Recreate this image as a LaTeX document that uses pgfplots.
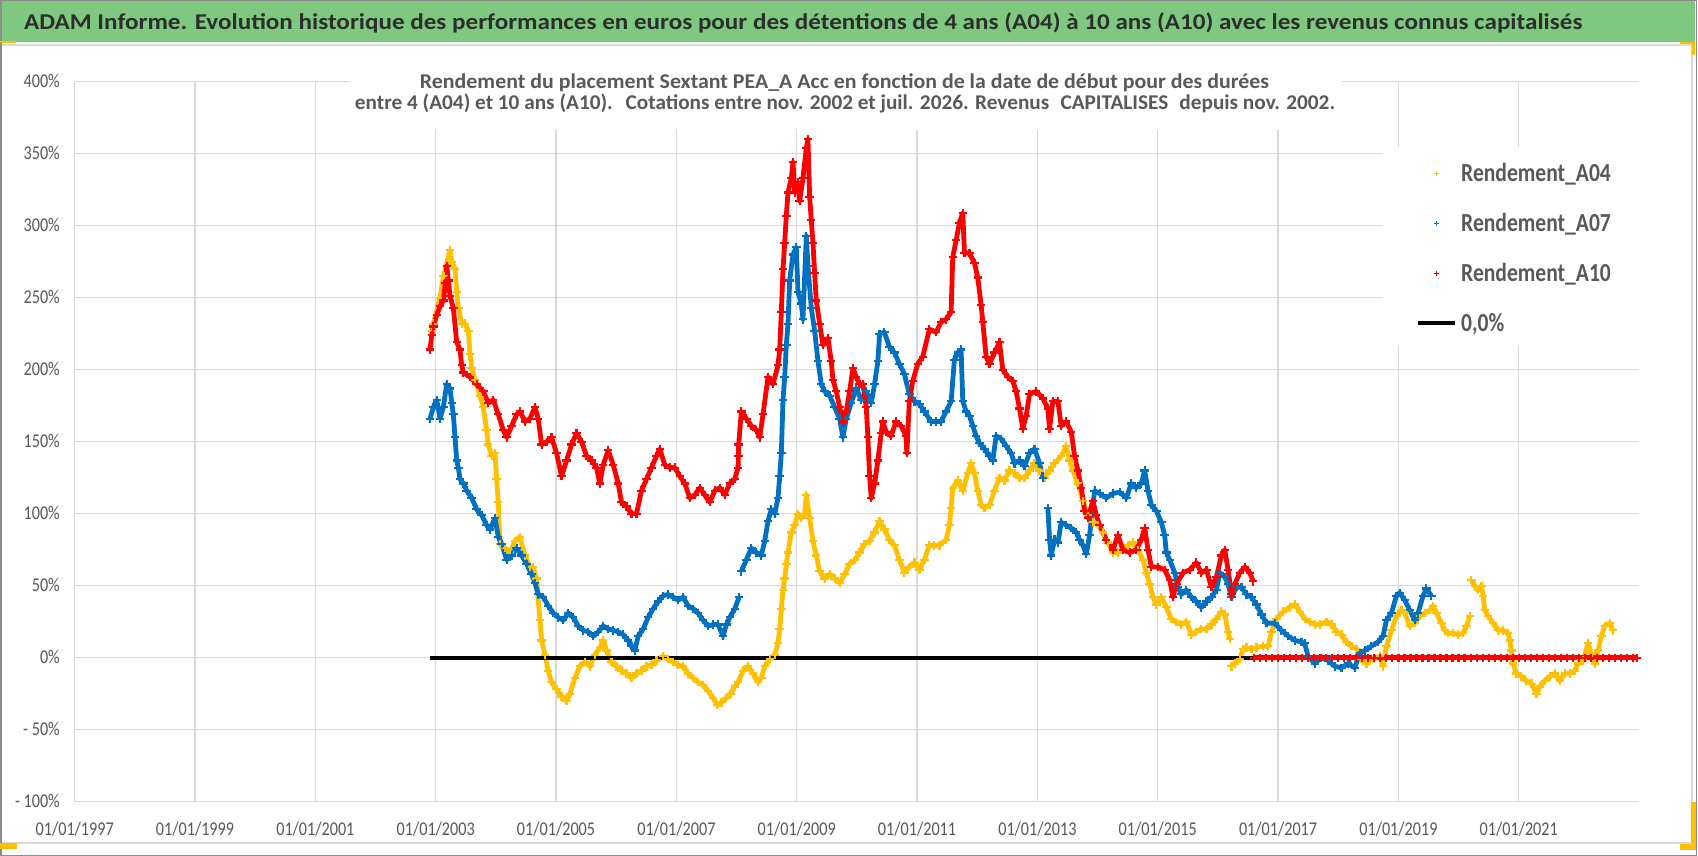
\documentclass[border=0pt]{standalone}
\usepackage{fontspec}
\setmainfont{Carlito}
\usepackage{graphicx}
\usepackage{pgfplots}
\usepackage{pgfplotstable}
\pgfplotsset{compat=1.18}
\definecolor{gridgray}{RGB}{217,217,217}
\definecolor{lblgray}{RGB}{89,89,89}
\definecolor{titlegray}{RGB}{45,45,45}
\definecolor{bargreen}{RGB}{126,200,128}
\definecolor{frame}{RGB}{140,140,140}
\definecolor{cAA}{RGB}{255,192,0}
\definecolor{cAB}{RGB}{0,112,192}
\definecolor{cAC}{RGB}{255,0,0}
\newcommand{\sq}[1]{\scalebox{0.83}[1]{#1}}
\newcommand{\tl}{\fontsize{19.5}{20}\selectfont}
\newcommand{\lgf}{\fontsize{26}{28}\selectfont\bfseries}
\pgfplotsset{
  mylegmark/.style={legend image code/.code={\path[draw=none,fill=none] (0pt,-10.5pt) rectangle (37pt,10.5pt);
    \draw[##1, mark size=2.4pt, mark options={line width=1.1pt}] plot coordinates {(18.5pt,0pt)};}},
  mylegline/.style={legend image code/.code={\path[draw=none,fill=none] (0pt,-10.5pt) rectangle (37pt,10.5pt);
    \draw[##1] (0pt,0pt) -- (37pt,0pt);}},
  serie/.style={mark=+, mark size=4.2pt, line width=4.8pt, mark options={line width=2.2pt}, color=#1, line join=round},
}

\pgfplotstableread{
x y
2002.934 227
2002.961 232
2003.070 250
2003.130 265
2003.238 283
2003.266 275
2003.321 270
2003.349 254
2003.376 243
2003.432 232
2003.487 232
2003.542 227
2003.570 211
2003.598 201
2003.653 193
2003.736 182
2003.791 174
2003.847 158
2003.874 148
2003.930 140
2003.985 142
2004.013 124
2004.040 108
2004.068 79
2004.151 76
2004.234 73
2004.317 81
2004.400 84
2004.483 71
2004.566 63
2004.621 63
2004.677 55
2004.732 26
2004.760 12
2004.815 2
2004.871 -9
2004.926 -17
2005.009 -22
2005.092 -27
2005.175 -30
2005.230 -25
2005.313 -14
2005.396 -6
2005.479 -3
2005.562 -6
2005.645 2
2005.728 7
2005.784 12
2005.839 5
2005.922 -3
2006.005 -6
2006.088 -9
2006.171 -11
2006.254 -14
2006.337 -11
2006.420 -9
2006.503 -6
2006.586 -5
2006.669 -2
2006.780 1
2006.863 -1
2006.946 -3
2007.029 -5
2007.112 -6
2007.195 -11
2007.278 -14
2007.361 -17
2007.444 -19
2007.527 -23
2007.610 -28
2007.680 -33
2007.750 -31
2007.831 -28
2007.900 -25
2007.970 -20
2008.025 -17
2008.108 -9
2008.191 -6
2008.274 -11
2008.357 -17
2008.412 -14
2008.468 -6
2008.551 -1
2008.634 2
2008.689 10
2008.717 20
2008.744 34
2008.772 47
2008.800 55
2008.827 65
2008.855 73
2008.910 87
2008.966 92
2009.021 100
2009.076 97
2009.132 100
2009.159 113
2009.215 97
2009.270 81
2009.325 71
2009.381 60
2009.464 55
2009.547 58
2009.630 55
2009.713 52
2009.796 58
2009.879 65
2009.962 68
2010.045 73
2010.128 79
2010.211 81
2010.294 87
2010.377 95
2010.460 89
2010.540 82
2010.623 78
2010.706 68
2010.789 59
2010.872 63
2010.956 66
2011.039 61
2011.122 68
2011.205 78
2011.288 78
2011.372 78
2011.483 82
2011.538 92
2011.566 104
2011.593 118
2011.677 123
2011.760 116
2011.843 128
2011.898 135
2011.954 128
2012.009 116
2012.065 106
2012.120 104
2012.204 106
2012.287 116
2012.370 125
2012.453 123
2012.536 130
2012.620 128
2012.703 125
2012.786 125
2012.869 130
2012.952 135
2013.036 130
2013.119 125
2013.202 130
2013.285 135
2013.396 140
2013.479 147
2013.535 137
2013.590 130
2013.673 121
2013.757 109
2013.840 99
2013.923 94
2014.006 92
2014.089 87
2014.172 80
2014.256 73
2014.339 73
2014.422 75
2014.505 78
2014.588 80
2014.672 75
2014.755 68
2014.810 59
2014.866 51
2014.921 42
2014.977 37
2015.060 42
2015.143 35
2015.227 27
2015.310 25
2015.393 23
2015.476 25
2015.559 16
2015.642 18
2015.725 20
2015.809 20
2015.892 23
2015.975 27
2016.058 32
2016.114 30
2016.169 18
2016.197 13
2016.210 nan
2016.225 -6
2016.280 -4
2016.363 -1
2016.419 6
2016.474 7
2016.557 6
2016.641 7
2016.751 8
2016.835 8
2016.890 18
2016.973 27
2017.084 32
2017.195 35
2017.278 37
2017.362 32
2017.445 27
2017.528 25
2017.611 23
2017.694 23
2017.805 25
2017.889 23
2017.972 18
2018.055 16
2018.138 11
2018.222 8
2018.305 6
2018.388 -1
2018.471 -4
2018.582 -1
2018.693 1
2018.745 -6
2018.801 8
2018.884 19
2018.967 29
2019.050 33
2019.105 31
2019.188 22
2019.271 24
2019.355 29
2019.438 31
2019.521 33
2019.576 36
2019.632 31
2019.715 24
2019.770 19
2019.825 17
2019.909 17
2019.992 16
2020.075 17
2020.130 22
2020.186 29
2020.200 nan
2020.213 54
2020.269 50
2020.324 47
2020.380 50
2020.407 43
2020.435 33
2020.490 29
2020.573 24
2020.657 19
2020.740 19
2020.823 17
2020.850 12
2020.878 5
2020.906 -4
2020.961 -11
2021.044 -13
2021.127 -16
2021.211 -18
2021.294 -25
2021.349 -20
2021.432 -16
2021.515 -13
2021.598 -11
2021.681 -16
2021.765 -11
2021.848 -11
2021.931 -9
2021.986 -4
2022.069 -2
2022.152 10
2022.208 3
2022.263 -4
2022.319 5
2022.374 15
2022.429 22
2022.512 24
2022.568 19
}\tabAA

\pgfplotstableread{
x y
2002.906 166
2002.961 174
2003.017 179
2003.072 166
2003.127 174
2003.183 190
2003.238 187
2003.266 177
2003.293 169
2003.321 153
2003.349 137
2003.376 132
2003.404 124
2003.459 121
2003.515 116
2003.598 111
2003.681 103
2003.764 99
2003.847 92
2003.902 89
2003.985 97
2004.040 84
2004.096 79
2004.179 68
2004.262 71
2004.345 76
2004.428 71
2004.511 65
2004.594 58
2004.649 52
2004.704 44
2004.788 42
2004.871 36
2004.954 31
2005.037 28
2005.120 26
2005.203 31
2005.286 28
2005.369 22
2005.452 19
2005.535 18
2005.618 15
2005.701 18
2005.784 22
2005.867 20
2005.950 19
2006.033 18
2006.116 16
2006.199 12
2006.254 8
2006.309 5
2006.365 15
2006.448 20
2006.531 28
2006.614 34
2006.697 39
2006.780 43
2006.863 44
2006.946 42
2007.029 40
2007.112 42
2007.195 36
2007.278 34
2007.361 31
2007.444 26
2007.527 22
2007.610 23
2007.693 23
2007.776 15
2007.831 23
2007.887 28
2007.970 34
2008.042 42
2008.060 nan
2008.080 60
2008.163 68
2008.246 76
2008.329 73
2008.412 71
2008.468 81
2008.523 95
2008.578 103
2008.634 100
2008.689 111
2008.717 126
2008.744 142
2008.772 179
2008.800 195
2008.827 217
2008.855 232
2008.883 262
2008.938 280
2008.993 285
2009.021 254
2009.076 246
2009.104 235
2009.159 293
2009.187 272
2009.242 243
2009.298 227
2009.353 206
2009.408 190
2009.464 185
2009.547 182
2009.630 174
2009.713 166
2009.768 153
2009.823 166
2009.906 177
2009.989 187
2010.073 179
2010.156 185
2010.239 177
2010.294 190
2010.349 206
2010.377 225
2010.456 226
2010.540 216
2010.623 212
2010.706 204
2010.789 197
2010.872 183
2010.956 178
2011.039 176
2011.122 171
2011.233 164
2011.316 164
2011.399 164
2011.483 171
2011.566 178
2011.621 207
2011.677 212
2011.732 214
2011.760 178
2011.815 171
2011.871 168
2011.926 161
2011.982 154
2012.037 149
2012.120 145
2012.204 140
2012.259 137
2012.314 154
2012.398 152
2012.481 147
2012.564 142
2012.620 135
2012.703 137
2012.786 133
2012.869 142
2012.952 145
2013.036 135
2013.091 125
2013.130 nan
2013.174 104
2013.202 82
2013.230 71
2013.285 82
2013.341 80
2013.396 94
2013.479 92
2013.562 90
2013.646 87
2013.701 82
2013.757 78
2013.812 72
2013.867 85
2013.951 116
2014.034 114
2014.145 111
2014.256 114
2014.367 115
2014.478 111
2014.561 121
2014.644 118
2014.727 121
2014.783 130
2014.838 116
2014.894 106
2014.977 102
2015.060 94
2015.115 85
2015.143 73
2015.199 68
2015.282 59
2015.337 49
2015.393 44
2015.476 47
2015.559 42
2015.642 39
2015.725 35
2015.809 39
2015.892 42
2015.975 47
2016.031 59
2016.114 56
2016.169 51
2016.225 42
2016.308 49
2016.391 49
2016.474 44
2016.557 42
2016.641 37
2016.724 30
2016.807 24
2016.945 24
2017.055 19
2017.166 15
2017.277 12
2017.388 11
2017.443 10
2017.499 1
2017.609 -4
2017.720 0
2017.831 -2
2017.942 -6
2018.053 -7
2018.163 -4
2018.274 -7
2018.357 3
2018.440 5
2018.551 8
2018.662 11
2018.745 15
2018.801 26
2018.884 31
2018.967 43
2019.022 45
2019.105 40
2019.188 33
2019.271 26
2019.327 31
2019.410 43
2019.465 48
2019.548 43
}\tabAB

\pgfplotstableread{
x y
2002.906 214
2002.934 224
2002.961 230
2003.017 238
2003.072 244
2003.127 248
2003.160 260
2003.183 272
2003.210 262
2003.238 251
2003.293 243
2003.349 219
2003.404 214
2003.432 203
2003.459 198
2003.570 195
2003.681 190
2003.791 185
2003.874 177
2003.957 179
2004.040 169
2004.123 158
2004.179 153
2004.262 161
2004.345 169
2004.400 171
2004.483 164
2004.566 166
2004.649 174
2004.704 166
2004.760 148
2004.843 150
2004.926 153
2005.009 142
2005.092 126
2005.175 137
2005.258 148
2005.341 156
2005.424 150
2005.507 140
2005.590 137
2005.673 132
2005.728 121
2005.784 134
2005.867 144
2005.950 134
2006.033 121
2006.088 108
2006.171 105
2006.254 100
2006.337 100
2006.420 116
2006.503 124
2006.586 132
2006.669 140
2006.724 145
2006.807 134
2006.890 132
2006.973 132
2007.056 126
2007.139 121
2007.222 111
2007.305 113
2007.389 118
2007.471 113
2007.555 108
2007.638 116
2007.721 118
2007.804 113
2007.887 121
2007.970 124
2008.025 132
2008.030 140
2008.035 148
2008.080 171
2008.163 166
2008.246 161
2008.329 158
2008.385 153
2008.440 169
2008.523 195
2008.606 190
2008.689 203
2008.717 214
2008.744 240
2008.772 270
2008.800 288
2008.827 307
2008.855 323
2008.910 333
2008.938 344
2008.966 323
2009.021 330
2009.049 317
2009.104 333
2009.159 354
2009.187 360
2009.215 320
2009.242 304
2009.270 288
2009.298 267
2009.325 248
2009.381 232
2009.436 217
2009.519 222
2009.574 206
2009.602 193
2009.657 185
2009.713 174
2009.768 164
2009.823 171
2009.879 185
2009.934 201
2009.989 195
2010.045 190
2010.100 190
2010.156 174
2010.183 153
2010.211 126
2010.239 111
2010.294 121
2010.349 137
2010.405 156
2010.429 164
2010.484 157
2010.567 154
2010.651 164
2010.734 161
2010.817 154
2010.830 142
2010.872 178
2010.928 192
2011.011 204
2011.094 209
2011.205 228
2011.316 226
2011.399 233
2011.483 235
2011.566 240
2011.593 278
2011.649 290
2011.704 302
2011.760 309
2011.788 281
2011.871 281
2011.954 274
2012.009 264
2012.065 245
2012.093 233
2012.148 209
2012.204 204
2012.287 212
2012.370 219
2012.425 200
2012.509 195
2012.592 192
2012.647 185
2012.703 173
2012.758 159
2012.814 168
2012.869 183
2012.980 185
2013.091 180
2013.174 173
2013.202 159
2013.257 178
2013.341 178
2013.396 161
2013.479 164
2013.562 157
2013.618 140
2013.673 130
2013.729 118
2013.784 102
2013.840 97
2013.923 109
2013.978 99
2014.034 92
2014.145 82
2014.256 75
2014.339 85
2014.422 75
2014.533 73
2014.644 75
2014.727 82
2014.783 90
2014.838 75
2014.894 63
2015.004 63
2015.115 61
2015.199 54
2015.254 42
2015.310 51
2015.420 59
2015.531 61
2015.642 66
2015.725 59
2015.809 61
2015.892 49
2015.975 56
2016.058 71
2016.114 75
2016.169 61
2016.225 44
2016.280 51
2016.363 59
2016.446 63
2016.530 59
2016.585 53
}\tabAC

\begin{document}
\begin{tikzpicture}
\path[use as bounding box] (0pt,0pt) rectangle (1698pt,-856pt);
\fill[white] (0pt,0pt) rectangle (1698pt,-856pt);
\fill[bargreen] (1.5pt,-1.5pt) rectangle (1695pt,-41.7pt);
\draw[gridgray, line width=1.2pt] (1pt,-45pt) -- (1692pt,-45pt) -- (1692pt,-843pt) -- (1pt,-843pt);
\draw[frame, line width=1.5pt] (0.75pt,-0.75pt) rectangle (1696.5pt,-855.25pt);

\begin{axis}[
  at={(74.7pt,-801.7pt)}, anchor=south west,
  scale only axis, width=1564.4pt, height=720pt,
  xmin=1997, xmax=2023, ymin=-100, ymax=400,
  clip=false,
  unbounded coords=jump,
  axis line style={draw=none},
  tick style={draw=none},
  major tick length=0pt,
  grid=major,
  major grid style={draw=gridgray, line width=1.3pt},
  xtick={1997,1999,2001,2003,2005,2007,2009,2011,2013,2015,2017,2019,2021},
  xticklabels={{\sq{01/01/1997}},{\sq{01/01/1999}},{\sq{01/01/2001}},{\sq{01/01/2003}},{\sq{01/01/2005}},{\sq{01/01/2007}},{\sq{01/01/2009}},{\sq{01/01/2011}},{\sq{01/01/2013}},{\sq{01/01/2015}},{\sq{01/01/2017}},{\sq{01/01/2019}},{\sq{01/01/2021}}},
  ytick={-100,-50,0,50,100,150,200,250,300,350,400},
  yticklabels={{\sq{- 100\%}},{\sq{- 50\%}},{\sq{0\%}},{\sq{50\%}},{\sq{100\%}},{\sq{150\%}},{\sq{200\%}},{\sq{250\%}},{\sq{300\%}},{\sq{350\%}},{\sq{400\%}}},
  tick label style={font=\tl, text=lblgray, inner sep=0pt},
  yticklabel style={anchor=base east, xshift=-14.7pt, yshift=-6.2pt},
  xticklabel style={anchor=base, yshift=-33.3pt},
  legend cell align=left,
  legend style={at={(axis cs:2019.292,343.9)}, anchor=north west, draw=none, fill=none,
    inner sep=0pt, row sep=29pt, column sep=4pt,
    nodes={inner sep=0pt, text height=19pt, text depth=2pt, anchor=west, text=lblgray}},
  mylegmark,
]
\fill[white] (axis cs:2001.575,366.5) rectangle (axis cs:2018.062,401.5);
\fill[white] (axis cs:2018.744,217) rectangle (axis cs:2023.1,354.7);

\addplot[serie=cAA] table {\tabAA};
\addlegendentry{\lgf\sq{Rendement\_A04}}
\addplot[serie=cAB] table {\tabAB};
\addlegendentry{\lgf\sq{Rendement\_A07}}
\addplot[black, line width=4pt, forget plot] coordinates {(2002.905,0) (2022.97,0)};
\addplot[serie=cAC] table {\tabAC};
\addlegendentry{\lgf\sq{Rendement\_A10}}
\addplot[serie=cAC, forget plot] coordinates {
(2016.60,0) (2016.70,0) (2016.80,0) (2016.90,0) (2017.00,0) (2017.10,0) (2017.20,0) (2017.30,0)
(2017.40,0) (2017.50,0) (2017.60,0) (2017.70,0) (2017.80,0) (2017.90,0) (2018.00,0) (2018.10,0)
(2018.20,0) (2018.30,0) (2018.40,0) (2018.50,0) (2018.60,0) (2018.70,0) (2018.80,0) (2018.90,0)
(2019.00,0) (2019.10,0) (2019.20,0) (2019.30,0) (2019.40,0) (2019.50,0) (2019.60,0) (2019.70,0)
(2019.80,0) (2019.90,0) (2020.00,0) (2020.10,0) (2020.20,0) (2020.30,0) (2020.40,0) (2020.50,0)
(2020.60,0) (2020.70,0) (2020.80,0) (2020.90,0) (2021.00,0) (2021.10,0) (2021.20,0) (2021.30,0)
(2021.40,0) (2021.50,0) (2021.60,0) (2021.70,0) (2021.80,0) (2021.90,0) (2022.00,0) (2022.10,0)
(2022.20,0) (2022.30,0) (2022.40,0) (2022.50,0) (2022.60,0) (2022.70,0) (2022.80,0) (2022.90,0)
(2022.97,0)};
\addlegendimage{black, line width=4pt, mylegline}
\addlegendentry{\lgf\sq{0,0\%}}
\end{axis}

\node[anchor=base west, inner sep=0pt, text=titlegray] at (24pt,-29.3pt)
  {\resizebox{1558pt}{\height}{\fontsize{22.6}{24}\selectfont\bfseries ADAM Informe. Evolution historique des performances en euros pour des détentions de 4 ans (A04) à 10 ans (A10) avec les revenus connus capitalisés}};
\node[anchor=base, inner sep=0pt, text=lblgray] at (844.5pt,-89pt)
  {\resizebox{849pt}{\height}{\fontsize{21}{23}\selectfont\bfseries Rendement du placement Sextant PEA\_A Acc en fonction de la date de début pour des durées}};
\node[anchor=base, inner sep=0pt, text=lblgray] at (845pt,-110pt)
  {\resizebox{980pt}{\height}{\fontsize{21}{23}\selectfont\bfseries entre 4 (A04) et 10 ans (A10).\hspace{0.3em} Cotations entre nov. 2002 et juil. 2026. Revenus\hspace{0.3em} CAPITALISES\hspace{0.3em} depuis nov. 2002.}};

\fill[cAA] (0pt,-40.7pt) rectangle (16pt,-43.3pt);
\fill[cAA] (1680pt,-41.7pt) rectangle (1695pt,-44pt);
\fill[cAA] (1692pt,-41.7pt) rectangle (1695pt,-55pt);
\fill[cAA] (0pt,-843pt) rectangle (17pt,-849pt);
\fill[cAA] (1691pt,-802pt) rectangle (1696pt,-850pt);
\fill[cAA] (1680pt,-844pt) rectangle (1696pt,-850pt);
\end{tikzpicture}
\end{document}
